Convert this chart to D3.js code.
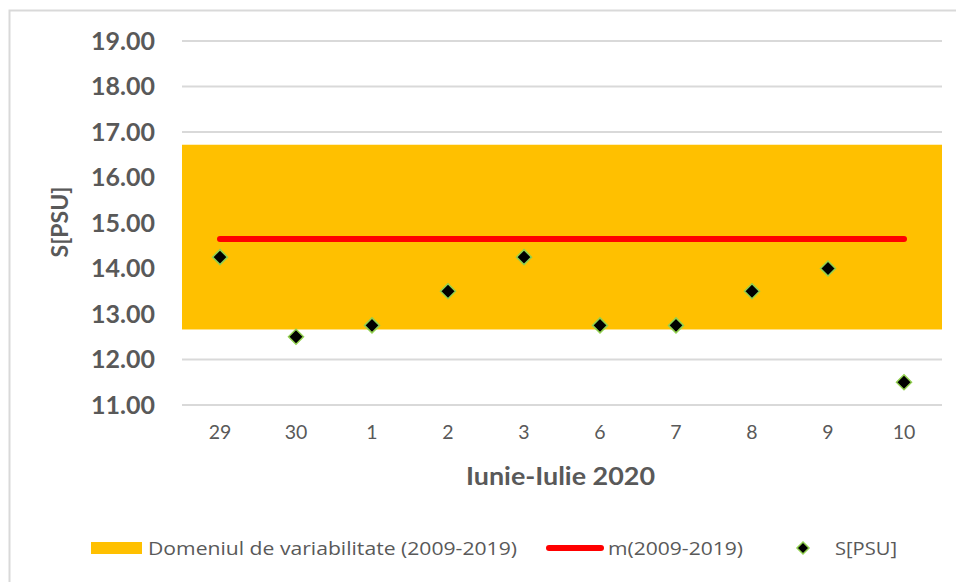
<!DOCTYPE html>
<html>
<head>
<meta charset="utf-8">
<script src="https://cdn.jsdelivr.net/npm/d3@7"></script>
<style>
  html, body { margin: 0; padding: 0; background: #fff; }
  svg { display: block; font-family: Lato, "Open Sans", sans-serif; }
</style>
</head>
<body>
<svg id="chart" width="956" height="582"></svg>
<script>
const categories = ["29", "30", "1", "2", "3", "6", "7", "8", "9", "10"];
const salinity = [14.25, 12.5, 12.75, 13.5, 14.25, 12.75, 12.75, 13.5, 14.0, 11.5];
const meanValue = 14.65;
const rangeLow = 12.66;
const rangeHigh = 16.72;
const yTicks = [11, 12, 13, 14, 15, 16, 17, 18, 19];
const legendLabels = ["Domeniul de variabilitate (2009-2019)", "m(2009-2019)", "S[PSU]"];
const xTitle = "Iunie-Iulie 2020";
const yTitle = "S[PSU]";

const svg = d3.select("#chart");
const plot = { left: 182, right: 942, top: 41, bottom: 405 };

// outer border
svg.append("path")
  .attr("d", `M9.5,582 V10.5 H956`)
  .attr("fill", "none").attr("stroke", "#d9d9d9").attr("stroke-width", 2);

const x = d3.scaleBand().domain(categories).range([plot.left, plot.right]);
const y = d3.scaleLinear().domain([11, 19]).range([plot.bottom, plot.top]);

// gridlines
svg.append("g").selectAll("line").data(yTicks).join("line")
  .attr("x1", plot.left).attr("x2", plot.right)
  .attr("y1", d => y(d)).attr("y2", d => y(d))
  .attr("stroke", "#d9d9d9").attr("stroke-width", 2);

// variability band
svg.append("rect")
  .attr("x", plot.left).attr("width", plot.right - plot.left)
  .attr("y", y(rangeHigh)).attr("height", y(rangeLow) - y(rangeHigh))
  .attr("fill", "#ffc000");

// y axis labels
const yAxis = d3.axisLeft(y).tickValues(yTicks).tickFormat(d3.format(".2f")).tickSize(0).tickPadding(27);
const gy = svg.append("g").attr("transform", `translate(${plot.left},0)`).call(yAxis);
gy.select(".domain").remove();
gy.selectAll("text").attr("font-size", 25).attr("font-weight", "bold").attr("fill", "#595959")
  .attr("font-family", "Lato, sans-serif");

// x axis labels
const xAxis = d3.axisBottom(x).tickSize(0).tickPadding(20);
const gx = svg.append("g").attr("transform", `translate(0,${plot.bottom})`).call(xAxis);
gx.select(".domain").remove();
gx.selectAll("text").attr("font-size", 19.5).attr("fill", "#595959").attr("font-family", "Lato, sans-serif");

// mean line
const cx = d => x(d) + x.bandwidth() / 2;
svg.append("line")
  .attr("x1", cx(categories[0])).attr("x2", cx(categories[categories.length - 1]))
  .attr("y1", y(meanValue)).attr("y2", y(meanValue))
  .attr("stroke", "#ff0000").attr("stroke-width", 6).attr("stroke-linecap", "round");

// points
const diamond = (s) => `M0,${-s} L${s},0 L0,${s} L${-s},0 Z`;
svg.append("g").selectAll("path").data(salinity).join("path")
  .attr("transform", (d, i) => `translate(${cx(categories[i])},${y(d)})`)
  .attr("d", diamond(7.5))
  .attr("fill", "#000").attr("stroke", "#92d050").attr("stroke-width", 1.5);

// axis titles
svg.append("text").attr("x", 466).attr("y", 485)
  .attr("font-size", 25).attr("font-weight", "bold").attr("fill", "#595959")
  .attr("textLength", 189).attr("lengthAdjust", "spacingAndGlyphs").text(xTitle);
svg.append("text").attr("transform", "translate(68,222) rotate(-90)").attr("text-anchor", "middle")
  .attr("font-size", 23).attr("font-weight", "bold").attr("fill", "#595959").text(yTitle);

// legend
const lg = svg.append("g").attr("font-size", 19).attr("fill", "#595959").attr("font-family", "'Open Sans', sans-serif");
lg.append("rect").attr("x", 91).attr("y", 542).attr("width", 51).attr("height", 12).attr("fill", "#ffc000");
lg.append("text").attr("x", 148).attr("y", 555).attr("textLength", 369).attr("lengthAdjust", "spacingAndGlyphs").text(legendLabels[0]);
lg.append("line").attr("x1", 549).attr("x2", 601).attr("y1", 548).attr("y2", 548)
  .attr("stroke", "#ff0000").attr("stroke-width", 6).attr("stroke-linecap", "round");
lg.append("text").attr("x", 608).attr("y", 555).attr("textLength", 135).attr("lengthAdjust", "spacingAndGlyphs").text(legendLabels[1]);
lg.append("path").attr("transform", "translate(803,548)").attr("d", diamond(6))
  .attr("fill", "#000").attr("stroke", "#92d050").attr("stroke-width", 1.5);
lg.append("text").attr("x", 835).attr("y", 555).attr("textLength", 62).attr("lengthAdjust", "spacingAndGlyphs").text(legendLabels[2]);
</script>
</body>
</html>
